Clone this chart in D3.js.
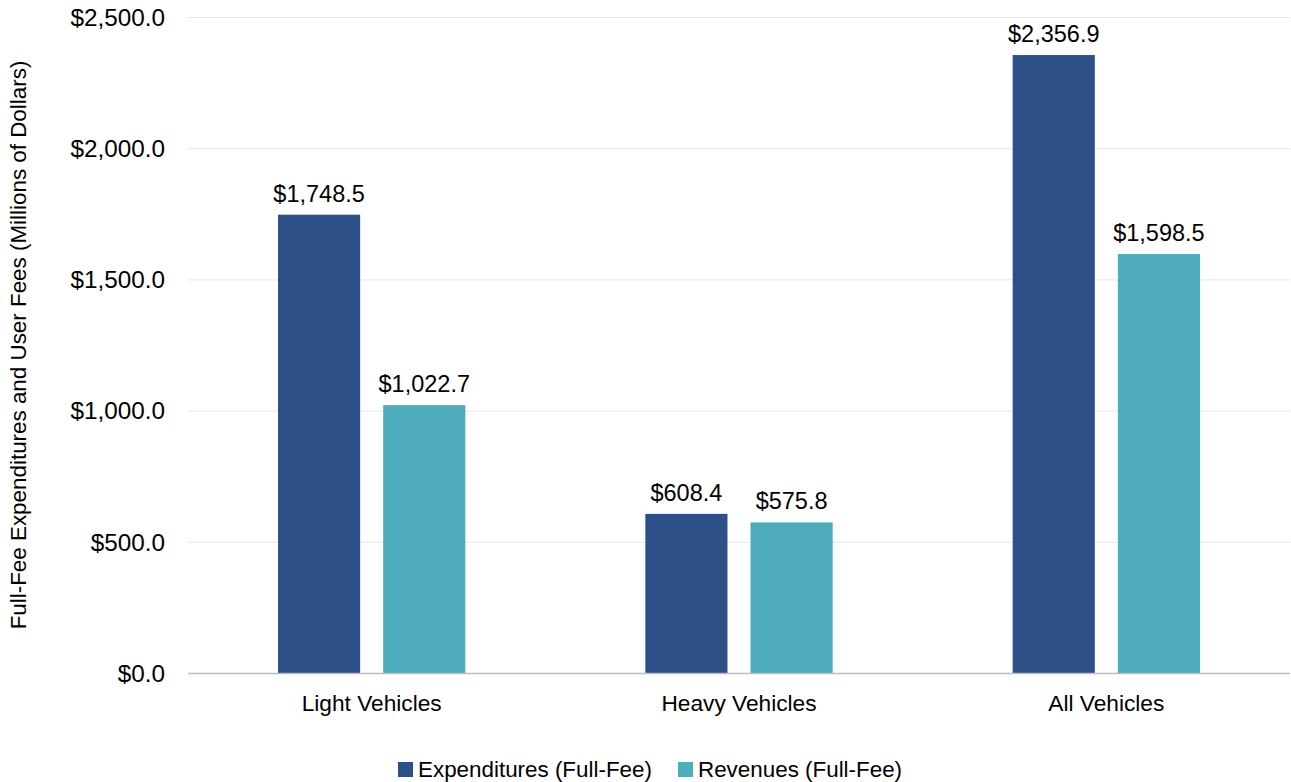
<!DOCTYPE html>
<html><head><meta charset="utf-8">
<script src="https://cdn.jsdelivr.net/npm/d3@7"></script>
<style>body{margin:0;background:#fff}svg{display:block}</style>
</head><body><svg id="c" width="1291" height="782"></svg>
<script>
const categories = ["Light Vehicles", "Heavy Vehicles", "All Vehicles"];
const seriesNames = ["Expenditures (Full-Fee)", "Revenues (Full-Fee)"];
const expenditures = [1748.5, 608.4, 2356.9];
const revenues = [1022.7, 575.8, 1598.5];
const yTicks = [0, 500, 1000, 1500, 2000, 2500];
const colors = ["#2E5089", "#4FACBD"];

(function () {
const svg = d3.select("#c");
const pLeft = 188, pRight = 1290, pTop = 17.5, pBottom = 673.5;
const y = d3.scaleLinear().domain([0, 2500]).range([pBottom, pTop]);
const x0 = d3.scaleBand().domain(categories).range([pLeft, pRight]).paddingInner(0.49).paddingOuter(0.245);
const x1 = d3.scaleBand().domain(seriesNames).range([0, x0.bandwidth()]).paddingInner(0.219).paddingOuter(0);
const fmt = v => "$" + d3.format(",.1f")(v);
const valueFont = "'Liberation Sans', Arial, sans-serif";
const catFont = "'Liberation Sans Narrow', 'Liberation Sans', sans-serif";

svg.append("g").selectAll("line").data(yTicks.filter(d => d > 0)).join("line")
  .attr("x1", pLeft).attr("x2", pRight).attr("y1", d => y(d)).attr("y2", d => y(d))
  .attr("stroke", "#e6e6e6").attr("stroke-width", 1);

const yAxis = d3.axisLeft(y).tickValues(yTicks).tickFormat(fmt).tickSize(0).tickPadding(23);
const ga = svg.append("g").attr("transform", `translate(${pLeft},0)`).call(yAxis);
ga.select(".domain").remove();
ga.selectAll("text").attr("font-family", valueFont).attr("font-size", 24.3).attr("fill", "#000");

const data = categories.map((c, i) => ({cat: c, vals: [expenditures[i], revenues[i]]}));
const groups = svg.append("g").selectAll("g").data(data).join("g")
  .attr("transform", d => `translate(${x0(d.cat)},0)`);
groups.selectAll("rect").data(d => d.vals.map((v, j) => ({s: seriesNames[j], v, j}))).join("rect")
  .attr("x", d => x1(d.s)).attr("width", x1.bandwidth())
  .attr("y", d => y(d.v)).attr("height", d => y(0) - y(d.v))
  .attr("fill", d => colors[d.j]);
groups.selectAll("text").data(d => d.vals.map((v, j) => ({s: seriesNames[j], v, j}))).join("text")
  .attr("x", d => x1(d.s) + x1.bandwidth() / 2).attr("y", d => y(d.v) - 13)
  .attr("text-anchor", "middle").attr("font-family", valueFont).attr("font-size", 23.5)
  .attr("fill", "#000").text(d => fmt(d.v));

svg.append("line").attr("x1", pLeft).attr("x2", pRight).attr("y1", y(0)).attr("y2", y(0))
  .attr("stroke", "#bdbdbd").attr("stroke-width", 1.5);

const xAxis = d3.axisBottom(x0).tickSize(0).tickPadding(0);
const gx = svg.append("g").attr("transform", `translate(0,${pBottom})`).call(xAxis);
gx.select(".domain").remove();
gx.selectAll("text").attr("dy", null).attr("y", 37).attr("font-family", catFont)
  .attr("font-size", 22.7).attr("fill", "#000");

svg.append("text").attr("transform", "translate(26,345) rotate(-90)")
  .attr("text-anchor", "middle").attr("font-family", valueFont).attr("font-size", 22.4)
  .attr("fill", "#000").text("Full-Fee Expenditures and User Fees (Millions of Dollars)");

const legX = [398, 678];
const leg = svg.append("g").selectAll("g").data(seriesNames).join("g")
  .attr("transform", (d, i) => `translate(${legX[i]},762)`);
leg.append("rect").attr("width", 15).attr("height", 15).attr("fill", (d, i) => colors[i]);
leg.append("text").attr("x", 20).attr("y", 15).attr("font-family", catFont)
  .attr("font-size", 22.4).attr("fill", "#000").text(d => d);
})();
</script></body></html>
